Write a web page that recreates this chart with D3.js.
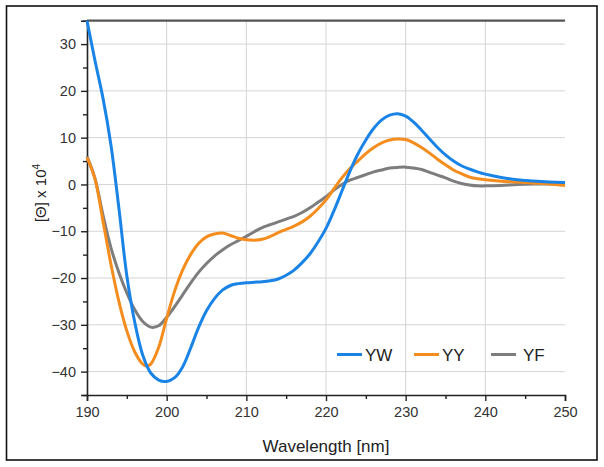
<!DOCTYPE html>
<html>
<head>
<meta charset="utf-8">
<script src="https://cdn.jsdelivr.net/npm/d3@7"></script>
<style>
  html, body { margin: 0; padding: 0; background: #fff; }
  svg { display: block; font-family: "Liberation Sans", Arial, sans-serif; }
</style>
</head>
<body>
<svg id="chart" width="604" height="467"></svg>
<script>
// ---- data ----
const wavelengthYW = [190,191,192,193,194,195,196,197,198,199,200,201,202,203,204,205,206,207,208,209,210,211,212,213,214,215,216,217,218,219,220,221,222,223,224,225,226,227,228,229,230,231,232,233,234,235,236,237,238,239,240,242,244,246,248,250];
const valuesYW = [35,26.5,18.5,8.5,-5,-19.5,-29.5,-36.5,-40.3,-41.8,-42.1,-41.3,-39,-35,-30.6,-27,-24.4,-22.6,-21.6,-21.2,-21,-20.9,-20.8,-20.6,-20.2,-19.4,-18.3,-16.7,-14.8,-12.3,-9.4,-5.6,-1.4,2.8,6.5,9.5,12,13.8,14.8,15.1,14.6,13.3,11.6,9.7,7.9,6.3,5,4,3.3,2.7,2.2,1.5,1.0,0.75,0.55,0.4];

const wavelengthYY = [190,191,192,193,194,195,196,197,197.5,198,199,200,201,202,203,204,205,206,207,208,209,210,211,212,213,214,215,216,217,218,219,220,221,222,223,224,225,226,227,228,229,230,231,232,233,234,235,236,237,238,239,240,242,244,246,248,250];
const valuesYY = [5.8,1.2,-7.8,-17,-25,-31.3,-35.8,-38.4,-38.8,-38.4,-34.8,-28.6,-22.8,-18.3,-15,-12.6,-11.2,-10.6,-10.4,-10.9,-11.5,-11.8,-11.9,-11.7,-11.1,-10.3,-9.6,-8.9,-8,-6.8,-5.2,-3.3,-0.9,1.4,3.4,5,6.6,7.9,8.9,9.5,9.7,9.6,8.9,7.9,6.7,5.4,4.2,3.1,2.3,1.6,1.2,1.0,0.7,0.5,0.3,0.1,-0.2];

const wavelengthYF = [190,191,192,193,194,195,196,197,198,199,200,201,202,203,204,205,206,207,208,209,210,211,212,213,214,215,216,217,218,219,220,221,222,223,224,225,226,227,228,229,230,231,232,233,234,235,236,237,238,239,240,242,244,246,248,250];
const valuesYF = [6,1.3,-6.5,-13.5,-18.8,-23.2,-26.8,-29.3,-30.5,-30.2,-28.4,-26.1,-23.6,-21.1,-18.8,-16.9,-15.3,-14,-12.9,-12,-11.1,-10.1,-9.2,-8.6,-8,-7.4,-6.8,-6,-5,-3.8,-2.6,-1.2,0,0.9,1.5,2.1,2.7,3.1,3.5,3.65,3.7,3.5,3.2,2.6,2.0,1.4,0.7,0.2,-0.1,-0.3,-0.3,-0.2,0,0.1,0.1,0.1];

const seriesNames = ["YW", "YY", "YF"];
const seriesColors = ["#1a84e6", "#f58d1e", "#7d7d7d"];
const xTicks = [190,200,210,220,230,240,250];
const yTicks = [-40,-30,-20,-10,0,10,20,30];
const xMinorTicks = [195,205,215,225,235,245];
const yMinorTicks = [-45,-35,-25,-15,-5,5,15,25,35];

// ---- layout ----
const svg = d3.select("#chart");
const L = 87, R = 565, T = 20.7, B = 395;
const x = d3.scaleLinear().domain([190, 250]).range([L, R]);
const y = d3.scaleLinear().domain([-45, 35]).range([B, T]);

// outer frame
svg.append("rect").attr("x", 6.5).attr("y", 6).attr("width", 590.5).attr("height", 454)
  .attr("fill", "none").attr("stroke", "#111").attr("stroke-width", 1.6);

// grid
svg.append("g").selectAll("line").data([200,210,220,230,240]).join("line")
  .attr("x1", d => x(d)).attr("x2", d => x(d)).attr("y1", T).attr("y2", B)
  .attr("stroke", "#d4d4d4").attr("stroke-width", 1);
svg.append("g").selectAll("line").data(yTicks).join("line")
  .attr("x1", L).attr("x2", R).attr("y1", d => y(d)).attr("y2", d => y(d))
  .attr("stroke", "#d4d4d4").attr("stroke-width", 1);

// top border line at y=35
svg.append("line").attr("x1", L).attr("x2", R).attr("y1", y(35)).attr("y2", y(35))
  .attr("stroke", "#555").attr("stroke-width", 2.2);

// axes
const xAxis = svg.append("g").attr("transform", `translate(0,${B})`)
  .call(d3.axisBottom(x).tickValues(xTicks).tickSize(6).tickPadding(6).tickFormat(d3.format("d")));
const xMinor = svg.append("g").attr("transform", `translate(0,${B})`)
  .call(d3.axisBottom(x).tickValues(xMinorTicks).tickSize(4).tickFormat(""));
const yAxis = svg.append("g").attr("transform", `translate(${L},0)`)
  .call(d3.axisLeft(y).tickValues(yTicks).tickSize(6).tickPadding(5).tickFormat(d3.format("d")));
const yMinor = svg.append("g").attr("transform", `translate(${L},0)`)
  .call(d3.axisLeft(y).tickValues(yMinorTicks).tickSize(4).tickFormat(""));
[xAxis, xMinor, yAxis, yMinor].forEach(g => {
  g.select(".domain").attr("stroke", "#222").attr("stroke-width", 1.6);
  g.selectAll(".tick line").attr("stroke", "#222").attr("stroke-width", 1.4);
  g.selectAll(".tick text").attr("fill", "#333").style("font-size", "14.5px")
    .style("font-family", "'Liberation Sans', Arial, sans-serif");
});
xMinor.select(".domain").remove();
yMinor.select(".domain").remove();

// lines
const series = [
  {name: seriesNames[0], xs: wavelengthYW, ys: valuesYW, color: seriesColors[0]},
  {name: seriesNames[1], xs: wavelengthYY, ys: valuesYY, color: seriesColors[1]},
  {name: seriesNames[2], xs: wavelengthYF, ys: valuesYF, color: seriesColors[2]}
];
const line = d3.line().x(d => x(d[0])).y(d => y(d[1])).curve(d3.curveCatmullRom.alpha(0.5));
// draw gray first, then orange, then blue on top
[2, 1, 0].forEach(i => {
  const s = series[i];
  svg.append("path").datum(s.xs.map((w, k) => [w, s.ys[k]]))
    .attr("d", line).attr("fill", "none").attr("stroke", s.color)
    .attr("stroke-width", 3).attr("stroke-linejoin", "round");
});

// legend
const legendX = [337, 414, 491];
series.forEach((s, i) => {
  const g = svg.append("g");
  g.append("line").attr("x1", legendX[i]).attr("x2", legendX[i] + 25)
    .attr("y1", 354.5).attr("y2", 354.5).attr("stroke", s.color).attr("stroke-width", 3);
  g.append("text").attr("x", legendX[i] + (i === 2 ? 32 : 28)).attr("y", 360.5)
    .attr("fill", "#222").style("font-size", "17px").text(s.name);
});

// axis titles
svg.append("text").attr("x", 326).attr("y", 452).attr("text-anchor", "middle")
  .attr("fill", "#222").style("font-size", "17px").text("Wavelength [nm]");
const yl = svg.append("text").attr("transform", "translate(46,193) rotate(-90)")
  .attr("text-anchor", "middle").attr("fill", "#222").style("font-size", "15px");
yl.append("tspan").text("[Θ] x 10");
yl.append("tspan").attr("dy", -6).style("font-size", "10px").text("4");
</script>
</body>
</html>
